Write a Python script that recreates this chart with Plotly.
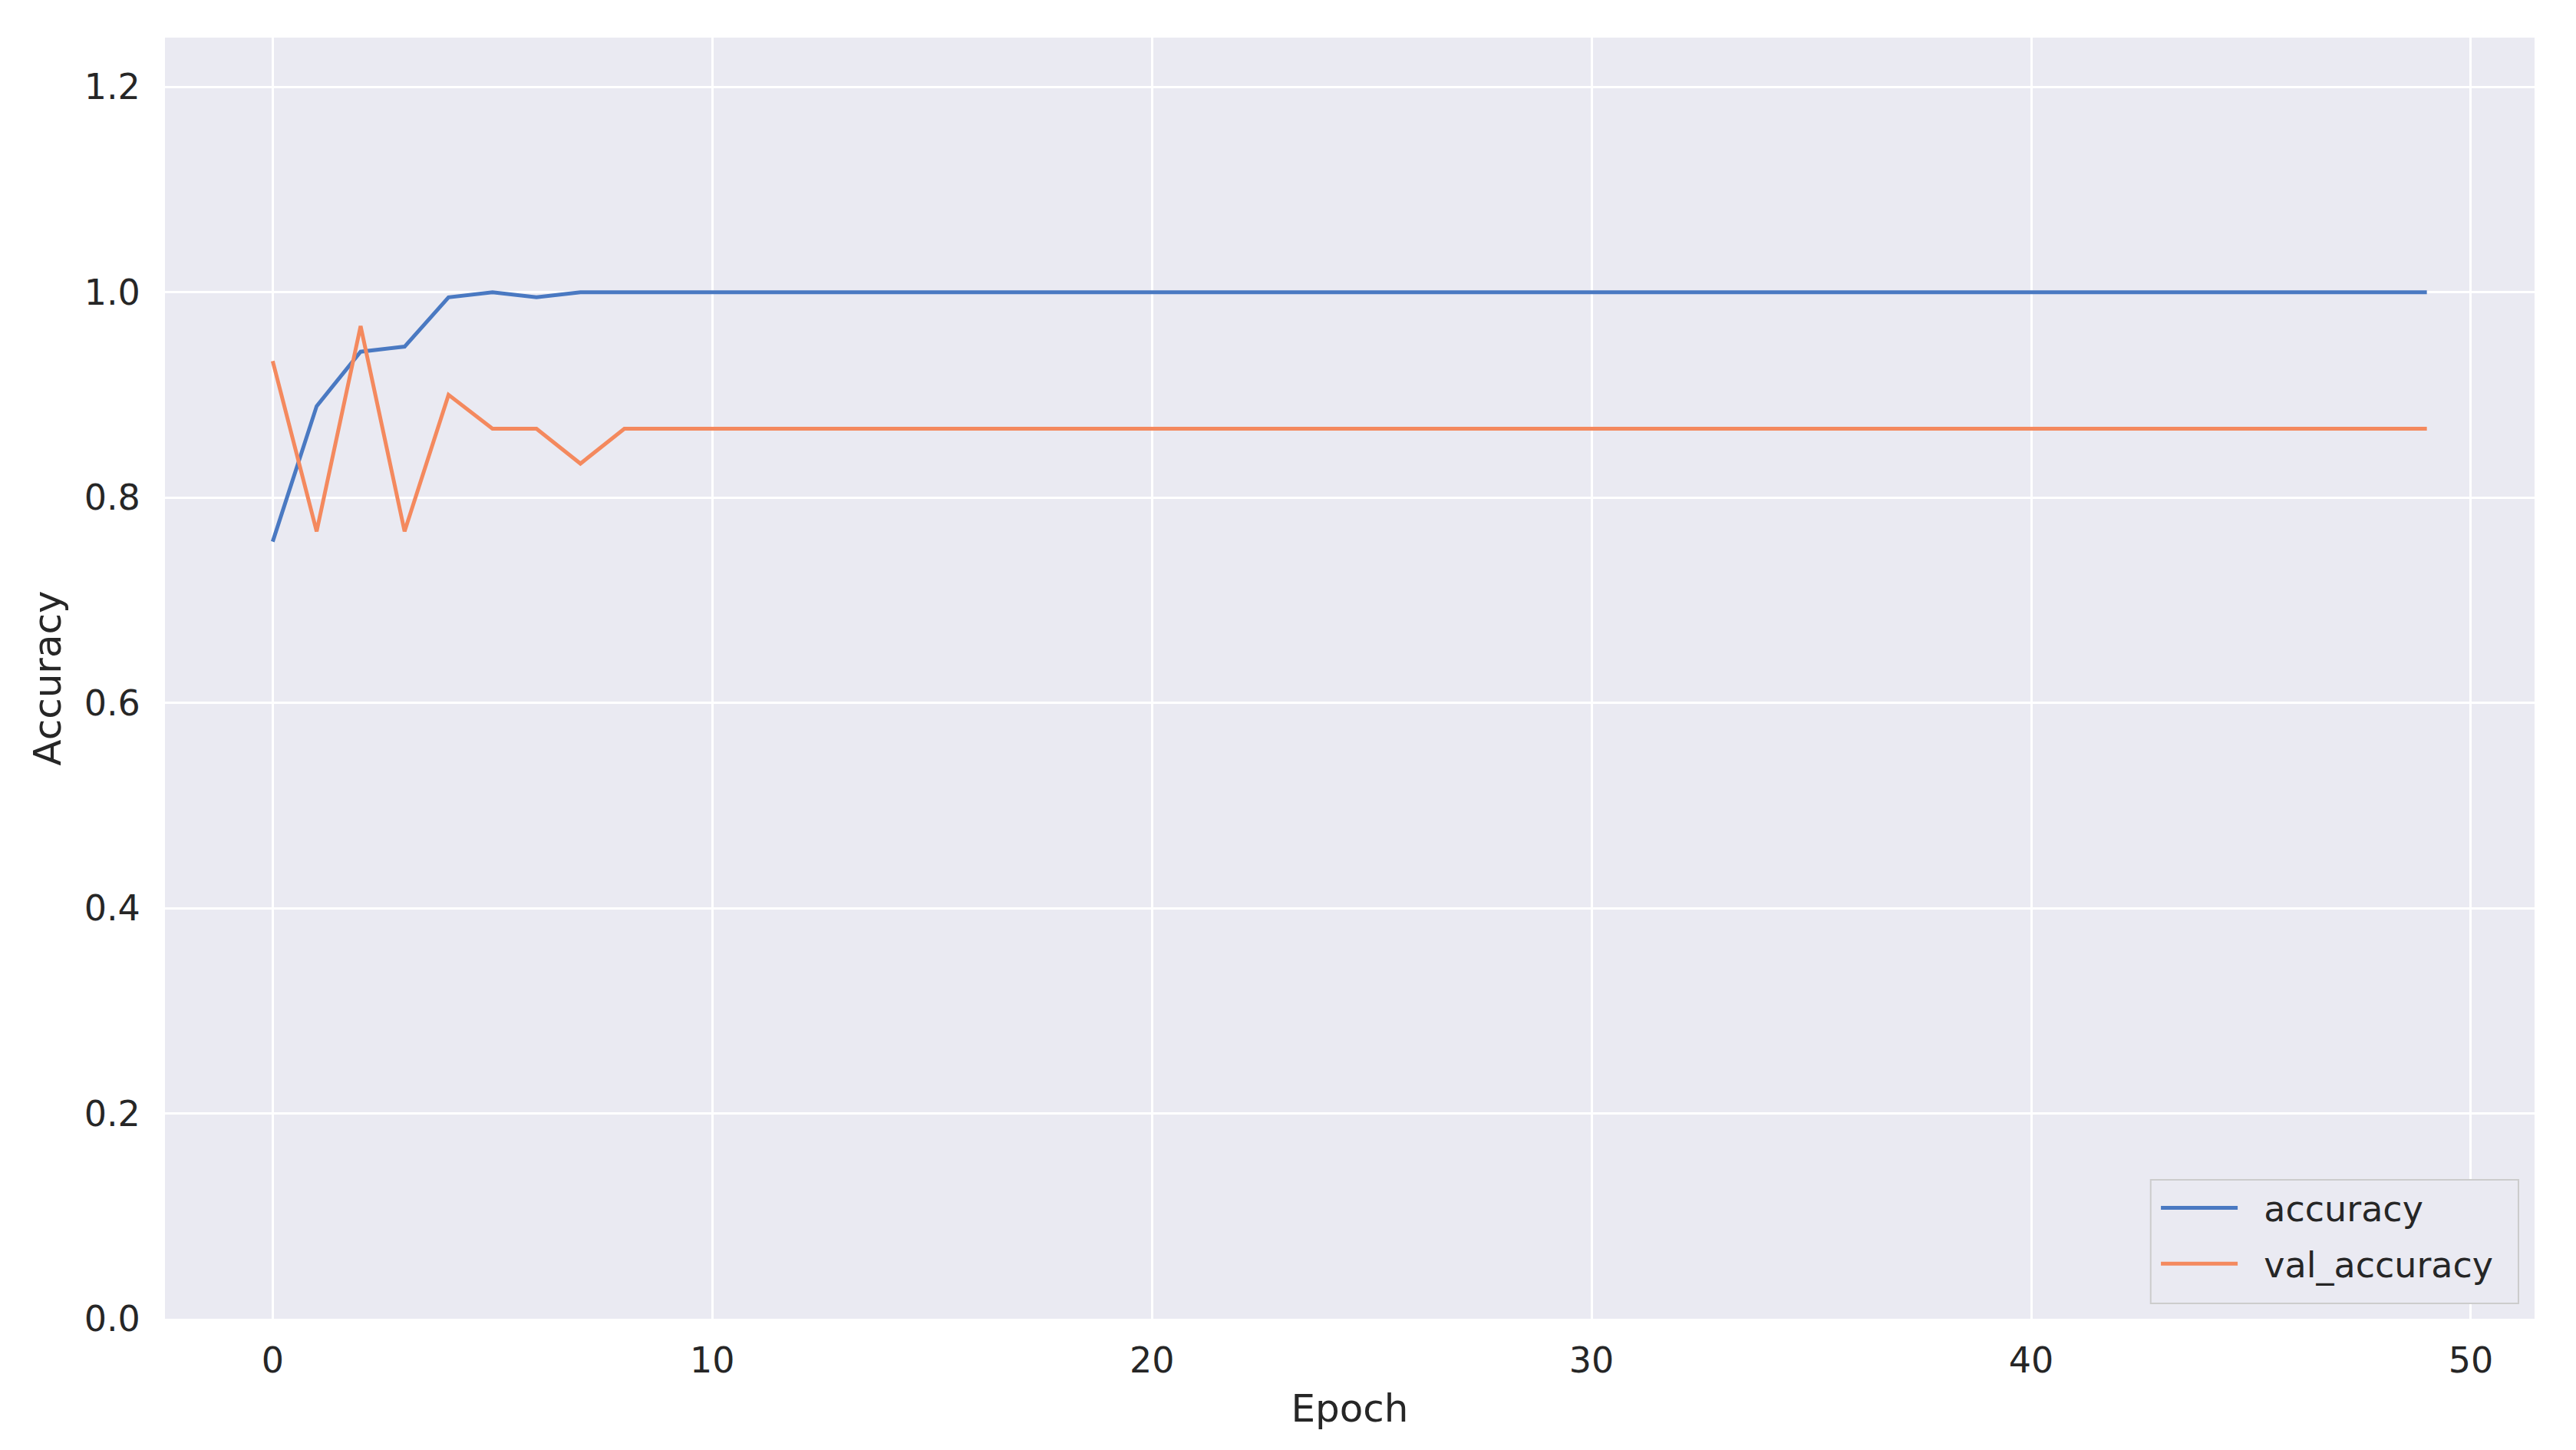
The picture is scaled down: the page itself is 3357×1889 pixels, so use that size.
import plotly.graph_objects as go

# Training history (50 epochs)
epochs = list(range(50))
accuracy = [0.757, 0.889, 0.942, 0.947, 0.995, 1.0, 0.995] + [1.0] * 43
val_accuracy = [0.933, 0.767, 0.967, 0.767, 0.900, 0.867, 0.867, 0.833] + [0.867] * 42

x_ticks = [0, 10, 20, 30, 40, 50]
y_ticks = [0.0, 0.2, 0.4, 0.6, 0.8, 1.0, 1.2]

FONT = "DejaVu Sans"
TEXT = "#262626"
PAD = "\u00a0\u00a0"  # small gap between legend line and label

fig = go.Figure()
fig.add_trace(go.Scatter(x=epochs, y=accuracy, mode="lines", name=PAD + "accuracy",
                         legendgroup="a", line=dict(color="#4A79C2", width=5)))
fig.add_trace(go.Scatter(x=epochs, y=val_accuracy, mode="lines", name=PAD + "val_accuracy",
                         legendgroup="b", line=dict(color="#F4895E", width=5)))

# legend frame (matplotlib style box)
fig.add_shape(type="rect", xref="paper", yref="paper",
              x0=0.838, x1=0.9932, y0=0.012, y1=0.1084,
              line=dict(color="#CCCCCC", width=2), fillcolor="#EAEAF2", layer="above")

fig.update_layout(
    width=3349, height=1881,
    margin=dict(l=207, r=54, t=41, b=171),
    paper_bgcolor="white",
    plot_bgcolor="#EAEAF2",
    font=dict(family=FONT, size=46, color=TEXT),
    showlegend=True,
    legend=dict(
        x=0.8407, y=0.1084, xanchor="left", yanchor="top",
        bgcolor="rgba(0,0,0,0)", borderwidth=0,
        font=dict(family=FONT, size=46, color=TEXT),
        itemwidth=100, tracegroupgap=10,
    ),
    xaxis=dict(
        title=dict(text="Epoch", font=dict(size=50, color=TEXT), standoff=18),
        range=[-2.45, 51.45], tickvals=x_ticks,
        showgrid=True, gridcolor="white", gridwidth=3,
        zeroline=False, showline=False,
        ticks="outside", ticklen=14, tickcolor="rgba(0,0,0,0)",
    ),
    yaxis=dict(
        title=dict(text="Accuracy", font=dict(size=50, color=TEXT), standoff=14),
        range=[0, 1.248], tickvals=y_ticks, tickformat=".1f",
        showgrid=True, gridcolor="white", gridwidth=3,
        zeroline=False, showline=False,
        ticks="outside", ticklen=22, tickcolor="rgba(0,0,0,0)",
    ),
)

fig.write_html("out.html")
